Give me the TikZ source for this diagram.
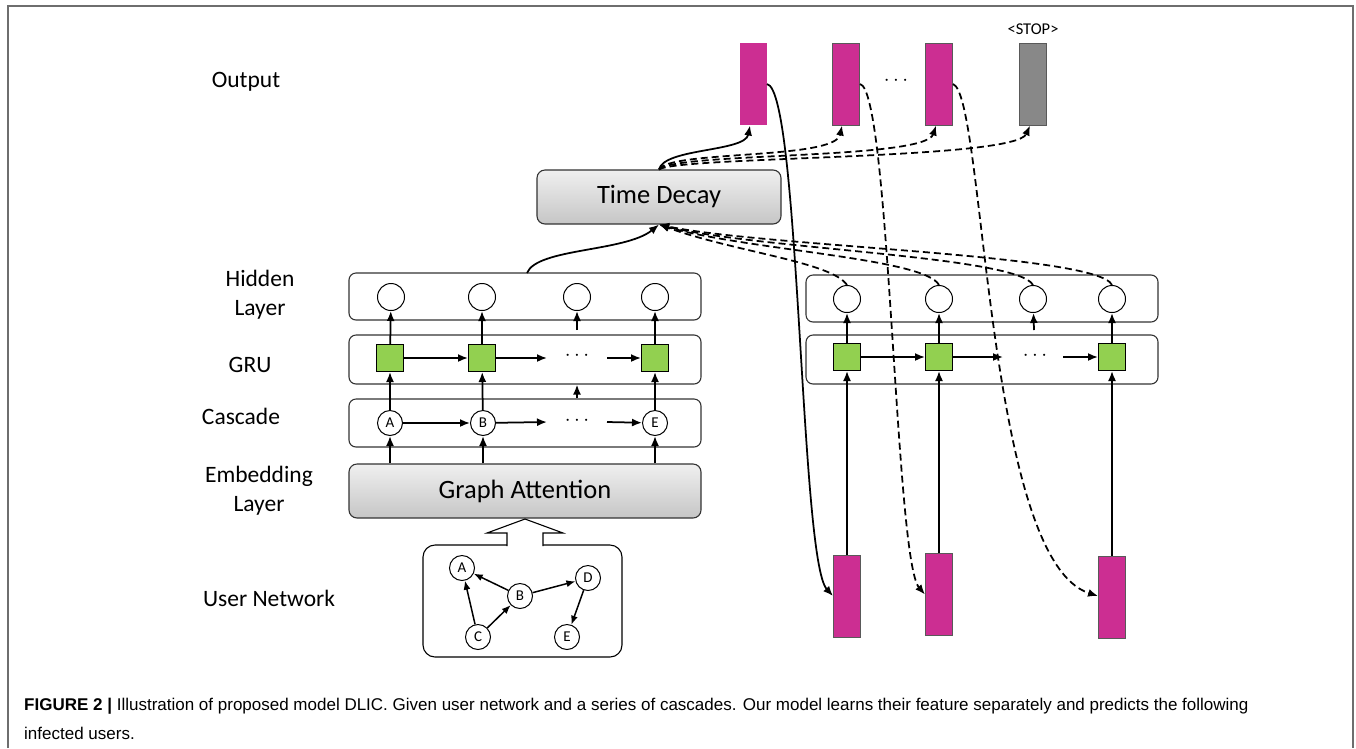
\documentclass[tikz,border=0pt]{standalone}
\usepackage{fontspec}
\setmainfont{Carlito}
\newfontfamily\capfont{Liberation Sans}
\usetikzlibrary{arrows.meta}
\definecolor{mag}{RGB}{204,46,146}
\definecolor{grn}{RGB}{146,208,80}
\definecolor{bargray}{RGB}{136,136,136}
\definecolor{framegray}{RGB}{110,110,110}
\begin{document}
\begin{tikzpicture}[x=1pt,y=-1pt,
  lbl/.style={font=\fontsize{23.5}{29}\selectfont, align=center},
  layer/.style={draw=black!80, line width=1.1pt, rounded corners=7pt, minimum width=352pt, inner sep=0pt},
  graybox/.style={draw=black!80, line width=1.1pt, rounded corners=8pt, top color=gray!12, bottom color=gray!45, font=\fontsize{26.5}{30}\selectfont, inner sep=0pt},
  hid/.style={circle, draw, line width=1pt, fill=white, minimum size=27pt, inner sep=0pt},
  cas/.style={circle, draw, line width=1pt, fill=white, minimum size=25pt, inner sep=0pt, font=\fontsize{15}{17}\selectfont},
  gru/.style={draw, line width=1pt, fill=grn, minimum size=27pt, inner sep=0pt},
  bar/.style={fill=mag, draw=black!65, line width=1pt, minimum width=27pt, minimum height=82pt, inner sep=0pt},
  arr/.style={-{Latex[length=10pt,width=8pt]}, line width=1.75pt},
  sarr/.style={-{Latex[length=9pt,width=7pt]}, line width=1.5pt},
  dsh/.style={arr, dash pattern=on 7pt off 4pt},
  dots/.style={font=\fontsize{20}{20}\selectfont, inner sep=0pt},
  capt/.style={anchor=base west, inner sep=0pt, font=\capfont\fontsize{17}{20}\selectfont}
]
\useasboundingbox (0,0) rectangle (1356,748);
% frame
\draw[framegray, line width=1.2pt] (8,748) -- (8,6) -- (1353,6) -- (1353,748);

% left labels
\node[lbl] (lout) at (246,82) {Output};
\node[lbl] (lhid) at (260,295) {Hidden\\Layer};
\node[lbl] (lgru) at (250,365) {GRU};
\node[lbl] (lcas) at (241,416) {Cascade};
\node[lbl] (lemb) at (259,491) {Embedding\\Layer};
\node[lbl] (lun) at (269,598) {User Network};

% left stack
\node[layer, minimum height=47pt] (hbox) at (525,296.5) {};
\node[layer, minimum height=49pt] (gbox) at (525,359.5) {};
\node[layer, minimum height=48pt] (cbox) at (525,423) {};
\node[graybox, minimum width=352pt, minimum height=54pt] (ga) at (525,491) {Graph Attention};
\node[graybox, minimum width=244pt, minimum height=54pt] (td) at (659,197) {Time Decay};

\node[hid] (h1) at (391,297) {};
\node[hid] (h2) at (482,297) {};
\node[hid] (h3) at (577,297) {};
\node[hid] (h4) at (655,297) {};
\node[gru] (g1) at (390,358) {};
\node[gru] (g2) at (482,358) {};
\node[gru] (g4) at (655,358) {};
\node[cas] (cA) at (390,423) {A};
\node[cas] (cB) at (483,423) {B};
\node[cas] (cE) at (655,423) {E};
\node[dots] (gd) at (577,356) {$\cdots$};
\node[dots] (cd) at (577,421) {$\cdots$};

\coordinate (g2e) at (547,358);
\coordinate (g3s) at (607,358);
\coordinate (c2e) at (547,422);
\coordinate (c3s) at (607,422);
\coordinate (h3s) at (577,330);
\draw[arr] (g1) -- (g2);
\draw[arr] (g2) -- (g2e);
\draw[arr] (g3s) -- (g4);
\draw[arr] (cA) -- (cB);
\draw[arr] (cB) -- (c2e);
\draw[arr] (c3s) -- (cE);
\foreach \c/\g/\h in {cA/g1/h1, cB/g2/h2, cE/g4/h4}{
  \draw[arr] (ga.north -| \c) -- (\c);
  \draw[arr] (\c) -- (\g);
  \draw[arr] (\g) -- (\h);
}
\draw[arr] (cbox.north -| h3) -- (gbox.south -| h3);
\draw[arr] (h3s) -- (h3);

% hidden -> time decay
\coordinate (hstart) at (527,273);
\draw[arr] (hstart) .. controls (537,248) and (625,252) .. (td.south);

% output bars
\node[bar, draw=none] (o1) at (753,84) {};
\node[bar] (o2) at (846,84) {};
\node[bar] (o3) at (939,84) {};
\node[bar, fill=bargray] (o4) at (1033,84) {};
\node[font=\fontsize{16.5}{18}\selectfont, inner sep=0pt] (stop) at (1033,29) {<STOP>};
\node[dots] (od) at (896,81) {$\cdots$};

% time decay -> outputs
\draw[arr] (td.north) .. controls (664,148) and (745,152) .. ([xshift=-3pt]o1.south);
\draw[dsh] (td.north) .. controls (670,150) and (835,160) .. ([xshift=-4pt]o2.south);
\draw[dsh] (td.north) .. controls (675,152) and (925,160) .. ([xshift=-3pt]o3.south);
\draw[dsh] (td.north) .. controls (680,156) and (1015,160) .. ([xshift=-3pt]o4.south);

% right stack
\node[layer, minimum height=47pt] (rh) at (982,298.5) {};
\node[layer, minimum height=49pt] (rg) at (982,359.5) {};
\node[hid] (rh1) at (847,299) {};
\node[hid] (rh2) at (939,299) {};
\node[hid] (rh3) at (1033,299) {};
\node[hid] (rh4) at (1112,299) {};
\node[gru] (rg1) at (847,357) {};
\node[gru] (rg2) at (939,357) {};
\node[gru] (rg4) at (1112,357) {};
\node[dots] (rgd) at (1035,356) {$\cdots$};
\coordinate (rg2e) at (1003,357);
\coordinate (rg3s) at (1063,357);
\coordinate (rh3s) at (1034,330);
\draw[arr] (rg1) -- (rg2);
\draw[arr] (rg2) -- (rg2e);
\draw[arr] (rg3s) -- (rg4);
\draw[arr] (rh3s) -- (rh3);

% bottom bars
\node[bar] (b1) at (847,596) {};
\node[bar] (b2) at (939,594.5) {};
\node[bar] (b3) at (1112,597) {};
\foreach \b/\g/\h in {b1/rg1/rh1, b2/rg2/rh2, b3/rg4/rh4}{
  \draw[arr] (\b) -- (\g);
  \draw[arr] (\g) -- (\h);
}

% outputs feed back as inputs
\draw[arr] (o1.east) .. controls (800,90) and (800,560) .. (b1.west);
\draw[dsh] (o2.east) .. controls (890,90) and (895,560) .. (b2.west);
\draw[dsh] (o3.east) .. controls (985,95) and (985,560) .. ([yshift=1pt]b3.west);

% right hidden -> time decay
\draw[dsh] (rh1.north) .. controls (832,262) and (735,252) .. (td.south);
\draw[dsh] (rh2.north) .. controls (925,258) and (745,250) .. (td.south);
\draw[dsh] (rh3.north) .. controls (1018,256) and (755,249) .. (td.south);
\draw[dsh] (rh4.north) .. controls (1098,254) and (765,247) .. (td.south);

% user network
\node[draw, line width=1.1pt, rounded corners=12pt, minimum width=199pt, minimum height=112pt, inner sep=0pt] (unbox) at (522.5,601) {};
\node[cas] (uA) at (462,568) {A};
\node[cas] (uB) at (520,596) {B};
\node[cas] (uC) at (478,637) {C};
\node[cas] (uD) at (588,578) {D};
\node[cas] (uE) at (567,637) {E};
\draw[sarr] (uB) -- (uA);
\draw[sarr] (uB) -- (uD);
\draw[sarr] (uC) -- (uA);
\draw[sarr] (uC) -- (uB);
\draw[sarr] (uD) -- (uE);
\draw[line width=1.1pt, fill=white] (507,546) -- (507,533) -- (487,533) -- (525,519) -- (563,533) -- (543,533) -- (543,546);

% caption
\node[capt] (cap1) at (24,710) {\textbf{FIGURE 2 |} Illustration of proposed model DLIC. Given user network and a series of cascades. Our model learns their feature separately and predicts the following};
\node[capt] (cap2) at (24,739) {infected users.};
\end{tikzpicture}
\end{document}
